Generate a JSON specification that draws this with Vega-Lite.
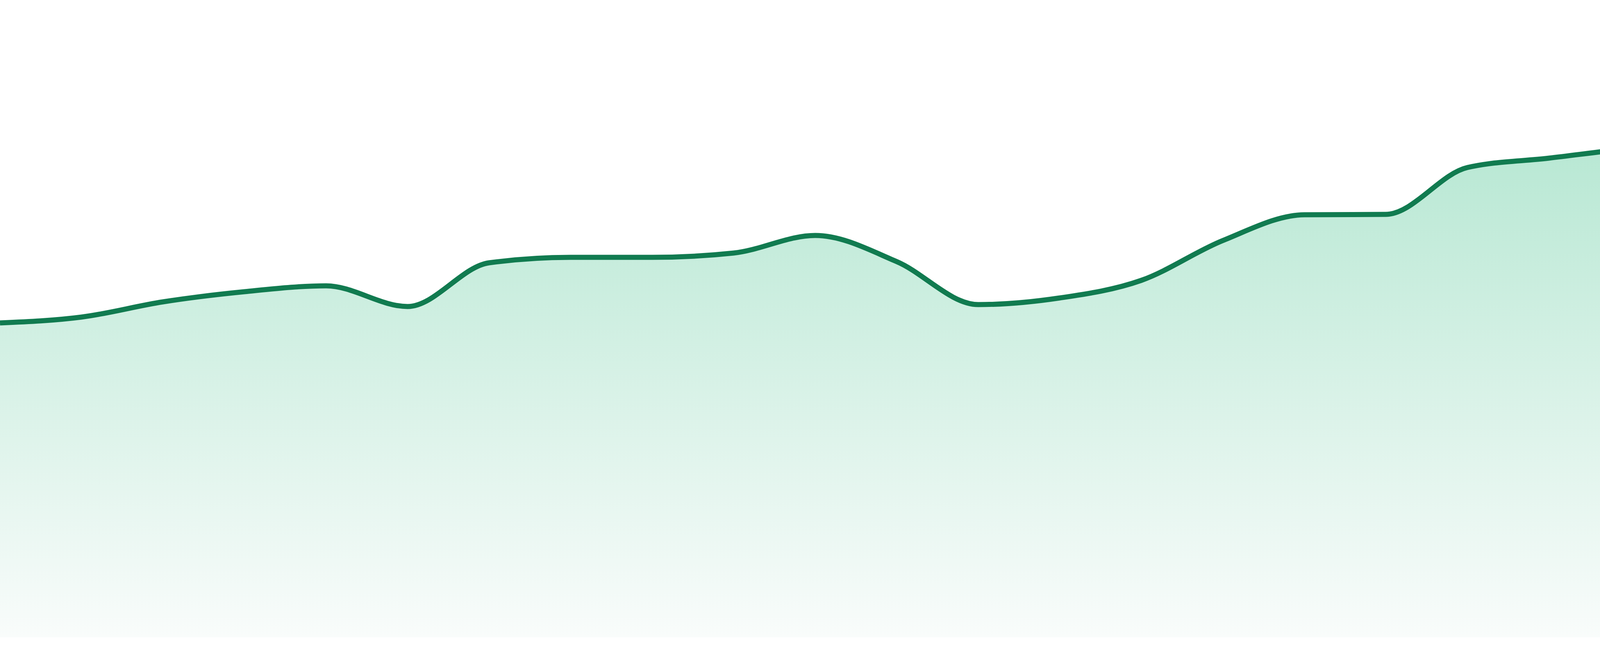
{
  "$schema": "https://vega.github.io/schema/vega-lite/v6.json",
  "width": 4800,
  "height": 1632,
  "autosize": {"type": "none"},
  "padding": {"left": 0, "right": 0, "top": 0, "bottom": 48},
  "background": "#ffffff",
  "data": {
    "values": [
      {"step": 0, "value": 805},
      {"step": 1, "value": 820},
      {"step": 2, "value": 859},
      {"step": 3, "value": 885},
      {"step": 4, "value": 900},
      {"step": 5, "value": 847},
      {"step": 6, "value": 959},
      {"step": 7, "value": 973},
      {"step": 8, "value": 973},
      {"step": 9, "value": 984},
      {"step": 10, "value": 1029},
      {"step": 11, "value": 962},
      {"step": 12, "value": 852},
      {"step": 13, "value": 869},
      {"step": 14, "value": 914},
      {"step": 15, "value": 1016},
      {"step": 16, "value": 1082},
      {"step": 17, "value": 1083},
      {"step": 18, "value": 1203},
      {"step": 19, "value": 1227},
      {"step": 20, "value": 1252},
      {"step": 21, "value": 1270},
      {"step": 22, "value": 1433},
      {"step": 23, "value": 1383}
    ]
  },
  "encoding": {
    "x": {
      "field": "step",
      "type": "quantitative",
      "scale": {"domain": [0, 23], "nice": false, "zero": false},
      "axis": null
    },
    "y": {
      "field": "value",
      "type": "quantitative",
      "scale": {"domain": [0, 1632], "nice": false},
      "axis": null
    }
  },
  "layer": [
    {
      "mark": {
        "type": "area",
        "interpolate": "monotone",
        "color": {
          "gradient": "linear",
          "x1": 0, "y1": 0, "x2": 0, "y2": 1,
          "stops": [
            {"offset": 0, "color": "#afe5ce"},
            {"offset": 1, "color": "#f9fcfb"}
          ]
        }
      }
    },
    {
      "mark": {
        "type": "line",
        "interpolate": "monotone",
        "color": "#117b50",
        "strokeWidth": 13
      }
    }
  ],
  "config": {
    "view": {"stroke": null}
  }
}
